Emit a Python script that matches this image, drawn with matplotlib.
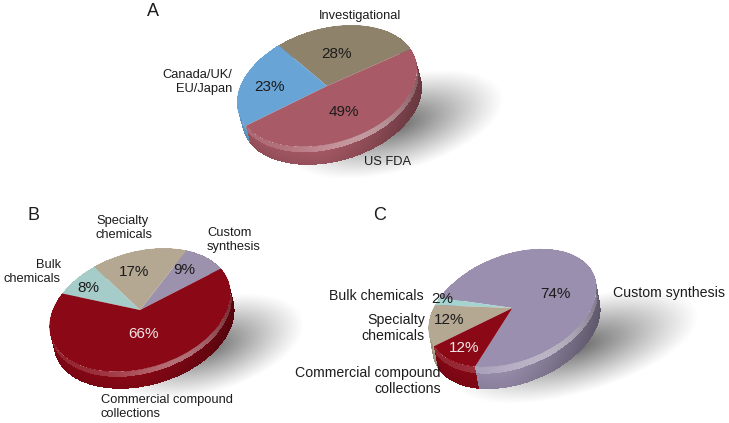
import numpy as np
import matplotlib
matplotlib.use("Agg")
import matplotlib.pyplot as plt
from matplotlib.colors import to_rgb
from matplotlib.transforms import Affine2D

plt.rcParams['font.family'] = ['Liberation Sans', 'DejaVu Sans']

W, H = 729, 423
TEXT = '#1c1c1c'
LIGHT = '#f3e6e6'
FS = 9.3
FS_C = 10.2
PCT = 11

# Panel A
a_labels = ['Investigational', 'Canada/UK/\nEU/Japan', 'US FDA']
a_values = [28, 23, 49]
a_colors = ['#8F826B', '#68A4D6', '#A85A66']

# Panel B
b_labels = ['Custom\nsynthesis', 'Specialty\nchemicals', 'Bulk\nchemicals', 'Commercial compound\ncollections']
b_values = [9, 17, 8, 66]
b_colors = ['#9C92AE', '#B5A893', '#A5CCC8', '#8B0816']

# Panel C
c_labels = ['Custom synthesis', 'Bulk chemicals', 'Specialty\nchemicals', 'Commercial compound\ncollections']
c_values = [74, 2, 12, 12]
c_colors = ['#9A8FAE', '#A5D4D0', '#B5A893', '#8B0816']

fig = plt.figure(figsize=(W / 100, H / 100), dpi=100)
ax = fig.add_axes([0, 0, 1, 1])


def shadow_alpha(cx, cy, a, b, rot, strength):
    yy, xx = np.mgrid[0:H, 0:W]
    r = np.deg2rad(rot)
    dx, dy = xx - cx, cy - yy
    u = dx * np.cos(r) + dy * np.sin(r)
    v = -dx * np.sin(r) + dy * np.cos(r)
    d = np.sqrt((u / a) ** 2 + (v / b) ** 2)
    return strength * np.clip(1 - d, 0, 1) ** 1.1


alpha = np.maximum.reduce([
    shadow_alpha(395, 124, 112, 47, 16, 0.85),
    shadow_alpha(205, 346, 102, 47, 16, 0.85),
    shadow_alpha(575, 346, 128, 47, 16, 0.85),
])
shadow = np.zeros((H, W, 4))
shadow[..., :3] = 0.30
shadow[..., 3] = alpha
ax.imshow(shadow, extent=(0, W, H, 0), zorder=1, interpolation='bilinear')


def draw_pie(values, colors, start, cx, cy, a, b, rot, off):
    tr = Affine2D().scale(a, b).rotate_deg(rot).scale(1, -1).translate(cx, cy)
    edges = start + 360 * np.cumsum([0] + list(values)) / sum(values)
    th = np.linspace(0, 360, 721)
    fr = np.linspace(0, 1, 31)
    T, F = np.meshgrid(th, fr)
    rim = tr.transform(np.c_[np.cos(np.deg2rad(T.ravel())), np.sin(np.deg2rad(T.ravel()))])
    X = rim[:, 0].reshape(T.shape) + F * off[0]
    Y = rim[:, 1].reshape(T.shape) + F * off[1]
    tc = 0.5 * (th[:-1] + th[1:])
    fc = 0.5 * (fr[:-1] + fr[1:])
    C = np.zeros((len(fc), len(tc), 3))
    for i, t in enumerate(tc):
        k = np.searchsorted(edges, ((t - start) % 360) + start, side='right') - 1
        base = np.array(to_rgb(colors[min(k, len(colors) - 1)]))
        x = np.cos(np.deg2rad(t + rot))
        ang = 1.0 - 0.32 * max(x, 0) ** 1.5 - 0.06 * max(-x, 0)
        hi = np.exp(-((t - 285) / 40) ** 2)
        for j, f in enumerate(fc):
            if f < 0.3:
                mix = 0.12 + 0.30 * hi
                C[j, i] = (base * ang) * (1 - mix) + mix
            else:
                C[j, i] = base * ang * (0.97 - 0.10 * (f - 0.3))
    ax.pcolormesh(X, Y, C, zorder=2, shading='flat')
    wedges, _ = ax.pie(values, colors=colors, startangle=start, radius=1,
                       counterclock=True, wedgeprops=dict(linewidth=0))
    for w in wedges:
        w.set_transform(tr + ax.transData)
        w.set_zorder(3)


draw_pie(a_values, a_colors, 11, 327, 86, 92.5, 57, 17, (5, 18))
draw_pie(b_values, b_colors, 16, 140, 310, 93, 58, 17, (4, 17))
draw_pie(c_values, c_colors, 230, 512.5, 308, 88, 53, 21.8, (4, 22))


def label(x, y, s, ha='center', color=TEXT, fs=FS):
    return ax.text(x, y + 1, s, ha=ha, va='center', color=color, fontsize=fs,
                   linespacing=1.17, zorder=5, multialignment=ha)


# panel letters
label(153, 11, 'A', fs=13)
label(34, 215, 'B', fs=13)
label(380, 214, 'C', fs=13)

# panel A text
label(319, 15, a_labels[0], ha='left')
label(232, 81, a_labels[1], ha='right')
label(364, 161, a_labels[2], ha='left')
label(337, 53, f'{a_values[0]}%', fs=PCT)
label(270, 86, f'{a_values[1]}%', fs=PCT)
label(344, 111, f'{a_values[2]}%', fs=PCT)

# panel B text
label(207, 239, b_labels[0], ha='left')
label(96, 227, b_labels[1], ha='left')
label(61, 271, b_labels[2], ha='right')
label(101, 406, b_labels[3], ha='left')
label(184, 269, f'{b_values[0]}%', fs=PCT)
label(134, 271, f'{b_values[1]}%', fs=PCT)
label(88, 287, f'{b_values[2]}%', fs=PCT)
label(144, 333, f'{b_values[3]}%', color=LIGHT, fs=PCT)

# panel C text
label(613, 292, c_labels[0], ha='left', fs=FS_C)
label(424, 295, c_labels[1], ha='right', fs=FS_C)
label(425, 327, c_labels[2], ha='right', fs=FS_C)
label(441, 380, c_labels[3], ha='right', fs=FS_C)
label(555, 293, f'{c_values[0]}%', fs=PCT)
label(442, 298, f'{c_values[1]}%', fs=PCT)
label(449, 319, f'{c_values[2]}%', fs=PCT)
label(464, 347, f'{c_values[3]}%', color=LIGHT, fs=PCT)

ax.set_aspect('auto')
ax.set_xlim(0, W)
ax.set_ylim(H, 0)
ax.axis('off')
fig.savefig('out.png', dpi=100, facecolor='white')
